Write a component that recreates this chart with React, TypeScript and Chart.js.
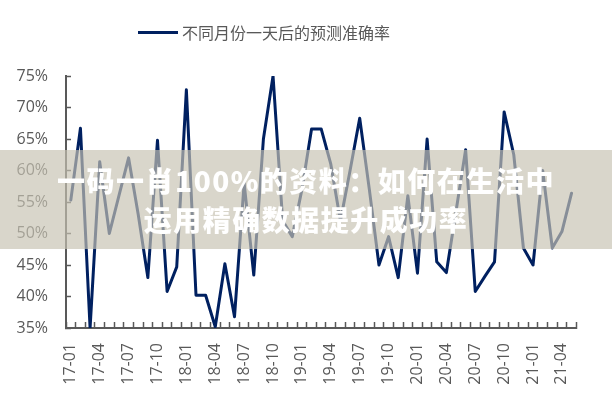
import React, { useEffect, useRef } from 'react';
import { Chart, registerables } from 'chart.js';

Chart.register(...registerables);

const legendLabel = '不同月份一天后的预测准确率';
const bannerLine1 = '一码一肖100%的资料：如何在生活中';
const bannerLine2 = '运用精确数据提升成功率';

const months: string[] = [
  '17-01', '17-02', '17-03', '17-04', '17-05', '17-06', '17-07', '17-08', '17-09', '17-10', '17-11', '17-12',
  '18-01', '18-02', '18-03', '18-04', '18-05', '18-06', '18-07', '18-08', '18-09', '18-10', '18-11', '18-12',
  '19-01', '19-02', '19-03', '19-04', '19-05', '19-06', '19-07', '19-08', '19-09', '19-10', '19-11', '19-12',
  '20-01', '20-02', '20-03', '20-04', '20-05', '20-06', '20-07', '20-08', '20-09', '20-10', '20-11', '20-12',
  '21-01', '21-02', '21-03', '21-04', '21-05',
];

const accuracy: number[] = [
  55.3, 66.7, 35.0, 61.4, 50.0, 56.0, 62.0, 53.0, 43.0, 64.8, 40.8, 44.7,
  72.8, 40.2, 40.2, 35.2, 45.2, 36.8, 58.0, 43.4, 65.0, 75.0, 52.0, 49.5,
  57.0, 66.6, 66.6, 61.0, 52.0, 60.0, 68.3, 57.0, 45.0, 49.5, 43.0, 56.0,
  43.7, 65.0, 45.5, 43.8, 53.5, 63.3, 40.8, 43.2, 45.5, 69.3, 62.5, 47.7,
  45.0, 60.0, 47.7, 50.3, 56.4,
];

const yMin = 35;
const yMax = 75;
const yStep = 5;

const axisColor = '#595959';
const lineColor = '#002060';
const fontFamily = "'Open Sans', 'Noto Sans', 'DejaVu Sans', sans-serif";

export default function App() {
  const ref = useRef<HTMLCanvasElement>(null);

  useEffect(() => {
    document.body.style.margin = '0';
    const canvas = ref.current;
    if (!canvas) return;
    const chart = new Chart(canvas, {
      type: 'line',
      data: {
        labels: months,
        datasets: [
          {
            label: legendLabel,
            data: accuracy,
            borderColor: lineColor,
            backgroundColor: lineColor,
            borderWidth: 3,
            pointRadius: 0,
            tension: 0,
            borderJoinStyle: 'round',
            borderCapStyle: 'round',
          },
        ],
      },
      options: {
        responsive: false,
        animation: false,
        layout: { padding: { top: 76, right: 26, left: 0, bottom: 0 } },
        plugins: {
          legend: { display: false },
          tooltip: { enabled: false },
        },
        scales: {
          x: {
            type: 'category',
            offset: true,
            grid: {
              display: true,
              drawOnChartArea: false,
              drawTicks: true,
              tickLength: -6,
              offset: true,
              color: axisColor,
              tickColor: axisColor,
              tickWidth: 1.5,
            },
            border: { display: true, color: axisColor, width: 2 },
            ticks: {
              autoSkip: false,
              maxRotation: 90,
              minRotation: 90,
              padding: 21,
              color: axisColor,
              font: { family: fontFamily, size: 16 },
              callback: (_v: any, i: number) => (i % 3 === 0 ? months[i] : ''),
            },
            afterFit: (s: any) => {
              s.height = 72;
            },
          },
          y: {
            min: yMin,
            max: yMax,
            grid: {
              display: true,
              drawOnChartArea: false,
              drawTicks: true,
              tickLength: -5,
              color: axisColor,
              tickColor: axisColor,
              tickWidth: 1.5,
            },
            border: { display: true, color: axisColor, width: 2 },
            ticks: {
              stepSize: yStep,
              padding: 23,
              color: axisColor,
              font: { family: fontFamily, size: 16 },
              callback: (v: any) => v + '%',
            },
            afterFit: (s: any) => {
              s.width = 66;
            },
          },
        },
      },
    });
    return () => chart.destroy();
  }, []);

  return (
    <div style={{ position: 'relative', width: 612, height: 400, background: '#fff', overflow: 'hidden' }}>
      <canvas ref={ref} width={612} height={400} style={{ position: 'absolute', left: 0, top: 0, width: 612, height: 400 }} />
      <div style={{ position: 'absolute', left: 138, top: 30.5, width: 40, height: 3, background: lineColor }} />
      <div
        style={{
          position: 'absolute',
          left: 182,
          top: 20,
          height: 24,
          lineHeight: '24px',
          fontFamily: "'Noto Sans CJK SC', sans-serif",
          fontSize: 16,
          color: axisColor,
          whiteSpace: 'nowrap',
        }}
      >
        {legendLabel}
      </div>
      <div
        style={{
          position: 'absolute',
          left: 0,
          top: 150,
          width: 612,
          height: 99,
          background: 'rgba(199,195,178,0.68)',
          display: 'flex',
          flexDirection: 'column',
          alignItems: 'center',
          justifyContent: 'center',
          fontFamily: "'Noto Sans CJK SC', sans-serif",
          fontWeight: 900,
          fontSize: 28,
          lineHeight: '39px',
          letterSpacing: 1.5,
          color: '#ffffff',
          whiteSpace: 'nowrap',
        }}
      >
        <div>{bannerLine1}</div>
        <div>{bannerLine2}</div>
      </div>
    </div>
  );
}
